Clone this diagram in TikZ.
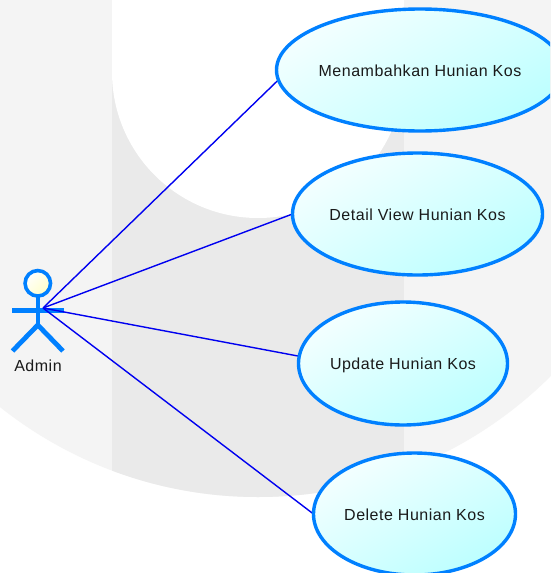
\documentclass[tikz,border=0pt]{standalone}
\usepackage{fontspec}
\setmainfont[LetterSpace=3.2]{Liberation Sans}
\usetikzlibrary{shapes.geometric}
\pgfdeclarelayer{bgl}
\pgfdeclarelayer{midl}
\pgfsetlayers{bgl,midl,main}
\definecolor{wmlight}{HTML}{F4F4F4}
\definecolor{wmdark}{HTML}{EAEAEA}
\definecolor{ucblue}{HTML}{0080FF}
\definecolor{linkblue}{HTML}{0000F0}
\definecolor{ucfilla}{HTML}{F4FFFF}
\definecolor{ucfillb}{HTML}{BCFFFF}
\definecolor{inktext}{HTML}{1A1A1A}
\tikzset{
  usecase/.style={ellipse,draw=ucblue,line width=3.4pt,inner sep=0pt,outer sep=0pt,
    top color=ucfilla,bottom color=ucfillb,shading angle=30,text=inktext,
    text height=13pt,text depth=1pt,
    font=\fontsize{16}{19}\selectfont},
  actorline/.style={draw=ucblue,line width=4.8pt},
  assoc/.style={draw=linkblue,line width=1.4pt},
  actorname/.style={text=inktext,font=\fontsize{16}{19}\selectfont,inner sep=0pt}
}
\begin{document}
\begin{tikzpicture}[x=1pt,y=-1pt]
\useasboundingbox (0,0) rectangle (550,573);
\clip (0,0) rectangle (550,573);
% use cases
\node[usecase,minimum width=287pt,minimum height=122pt] (e1) at (420,70) {Menambahkan Hunian Kos};
\node[usecase,minimum width=250pt,minimum height=122pt] (e2) at (417.5,214) {Detail View Hunian Kos};
\node[usecase,minimum width=209pt,minimum height=123pt] (e3) at (403,363.5) {Update Hunian Kos};
\node[usecase,minimum width=202pt,minimum height=122pt] (e4) at (414.5,514) {Delete Hunian Kos};
% watermark background
\begin{pgfonlayer}{bgl}
  \fill[white] (0,0) rectangle (550,573);
  \fill[wmlight] (258,82) circle[radius=415pt];
  \begin{scope}
    \clip (258,82) circle[radius=415pt];
    \fill[wmdark] (112,0) rectangle (404,573);
  \end{scope}
  \fill[white] (112,0) rectangle (404,72);
  \fill[white] (258,72) circle[radius=146pt];
\end{pgfonlayer}
\begin{pgfonlayer}{midl}
  % actor
  \node[circle,draw=ucblue,line width=3.6pt,minimum size=25.5pt,inner sep=0pt,outer sep=0pt,
        top color=white,bottom color=yellow!22!white,shading angle=45] (head) at (37.8,283.3) {};
  \coordinate (hip) at (37.8,325);
  \coordinate (armL) at (12,310.4);
  \coordinate (armR) at (63.5,310.4);
  \coordinate (legL) at (12.5,351);
  \coordinate (legR) at (63,351);
  \coordinate (hub) at (43,308);
  \draw[actorline,line width=3.8pt] (head.south) -- (hip);
  \draw[actorline] (armL) -- (armR);
  \draw[actorline] (legL) -- (hip) -- (legR);
  % associations
  \draw[assoc] (hub) -- (e1.184);
  \draw[assoc] (hub) -- (e2.180);
  \draw[assoc] (hub) -- (e3.176);
  \draw[assoc] (hub) -- (e4.180);
\end{pgfonlayer}
\node[actorname] (admin) at (38,366) {Admin};
\end{tikzpicture}
\end{document}
